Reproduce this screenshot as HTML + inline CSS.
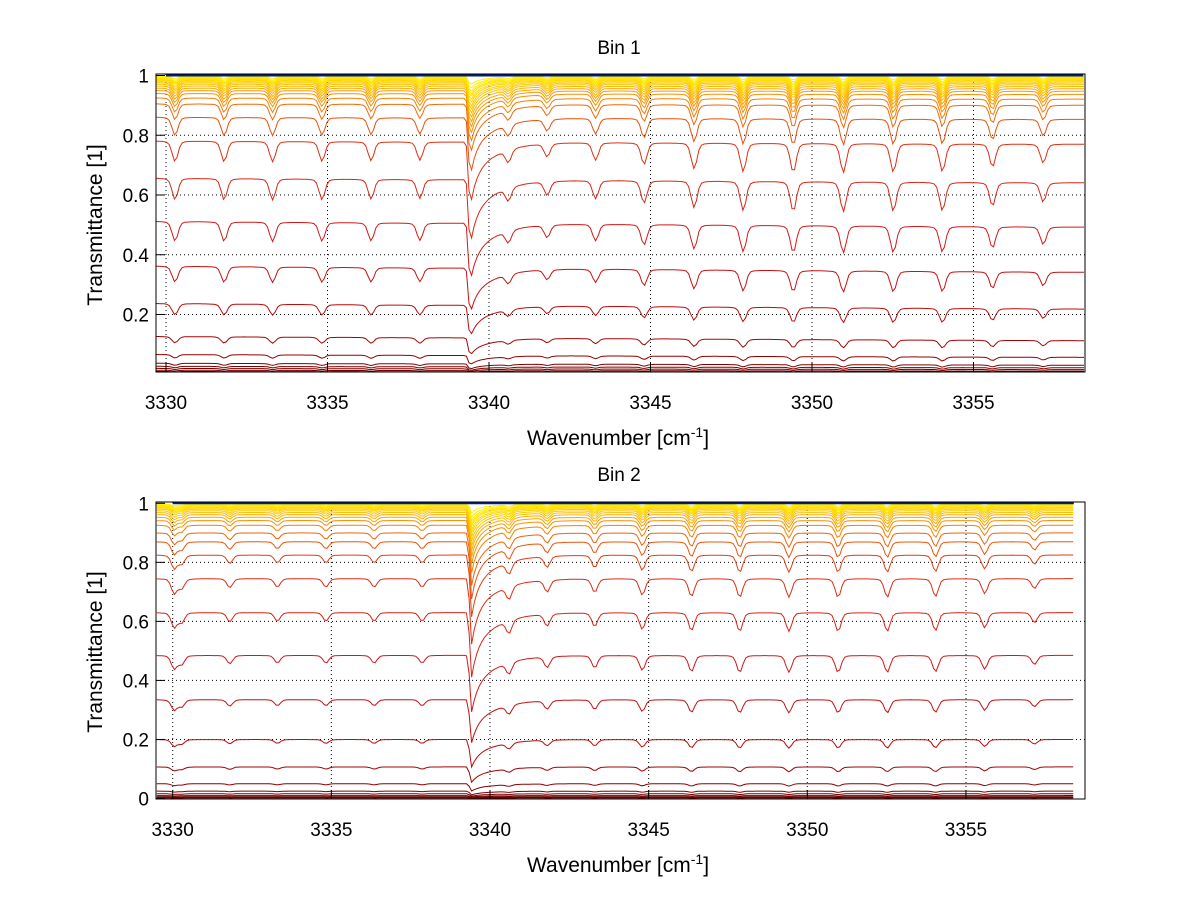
<!DOCTYPE html>
<html><head><meta charset="utf-8">
<style>
html,body{margin:0;padding:0;background:#fff;}
svg{display:block;font-family:"Liberation Sans",Arial,sans-serif;}
</style></head>
<body>
<svg id="chart" width="1200" height="901" viewBox="0 0 1200 901" xmlns="http://www.w3.org/2000/svg">
<rect width="1200" height="901" fill="#fff"/>
<defs>
<clipPath id="clipTop"><rect x="156" y="74" width="929" height="298"/></clipPath>
<clipPath id="clipBot"><rect x="156" y="502" width="929" height="297"/></clipPath>
</defs>
<g id="panels"></g>
</svg>
<script>
// ---- data ----
const xTicks = [3330, 3335, 3340, 3345, 3350, 3355];
const yTicksTop = [0.2, 0.4, 0.6, 0.8, 1];
const yTickLabelsTop = ["0.2", "0.4", "0.6", "0.8", "1"];
const yTicksBot = [0, 0.2, 0.4, 0.6, 0.8, 1];
const yTickLabelsBot = ["0", "0.2", "0.4", "0.6", "0.8", "1"];
// baseline transmittance of each curve
const topLevels = [1.0, 0.998, 0.996, 0.994, 0.992, 0.99, 0.987, 0.984, 0.98, 0.976, 0.971, 0.965, 0.958, 0.95, 0.94, 0.925, 0.905, 0.86, 0.78, 0.655, 0.51, 0.36, 0.235, 0.125, 0.065, 0.036, 0.026, 0.019, 0.013, 0.009, 0.006];
const botLevels = [1.0, 0.998, 0.996, 0.994, 0.992, 0.99, 0.987, 0.984, 0.98, 0.975, 0.969, 0.962, 0.953, 0.942, 0.926, 0.9, 0.87, 0.825, 0.745, 0.63, 0.485, 0.335, 0.2, 0.107, 0.05, 0.025, 0.016, 0.01, 0.006, 0.004, 0.002];
// absorption line centres (cm-1) and relative strengths
const linePositions = [3330.05, 3330.28, 3331.8, 3333.3, 3334.83, 3336.35, 3337.86, 3339.42, 3340.6, 3341.8, 3343.3, 3344.8, 3346.35, 3347.87, 3349.42, 3350.97, 3352.52, 3354.04, 3355.59, 3357.16];
const topStrengths = [0.0, 0.28, 0.28, 0.28, 0.27, 0.26, 0.25, 1.0, 0.18, 0.18, 0.24, 0.3, 0.36, 0.4, 0.41, 0.41, 0.4, 0.39, 0.32, 0.26];
const botStrengths = [0.2, 0.13, 0.12, 0.11, 0.11, 0.11, 0.11, 1.0, 0.18, 0.16, 0.18, 0.22, 0.24, 0.25, 0.25, 0.25, 0.25, 0.24, 0.2, 0.13];

const NS = "http://www.w3.org/2000/svg";
const root = document.getElementById("panels");

const panels = [
  {name:"bin-1", title:"Bin 1", levels:topLevels, strengths:topStrengths, slope:0.002,
   x0:166, xs:32.3, y1:75.5, ys:298.75, box:[156,74,1085,372], xmin:3329.7, xmax:3358.45,
   yTicks:yTicksTop, yLabels:yTickLabelsTop, clip:"clipTop", titleY:54, xlabY:409, xtitleY:445, ytitleY:225},
  {name:"bin-2", title:"Bin 2", levels:botLevels, strengths:botStrengths, slope:0.0,
   x0:172.7, xs:31.73, y1:503.3, ys:295.2, box:[156,502,1085,799], xmin:3329.5, xmax:3358.4,
   yTicks:yTicksBot, yLabels:yTickLabelsBot, clip:"clipBot", titleY:481, xlabY:836, xtitleY:872, ytitleY:652}
];

function color(v){
  if (v >= 0.9999) return "#001e8a";
  const stops = [[0,[110,0,0]],[0.05,[140,0,0]],[0.2,[185,10,10]],[0.5,[210,25,25]],[0.8,[222,50,20]],[0.9,[238,100,10]],[0.95,[250,155,0]],[0.98,[255,205,0]],[1,[255,245,0]]];
  for (let i=1;i<stops.length;i++){
    if (v <= stops[i][0]){
      const a=stops[i-1], b=stops[i], t=(v-a[0])/(b[0]-a[0]);
      const c=a[1].map((q,j)=>Math.round(q+(b[1][j]-q)*t));
      return "rgb("+c.join(",")+")";
    }
  }
  return "rgb(255,245,0)";
}
function profile(nu, c, isBig){
  const d = nu - c;
  if (isBig){
    if (d < 0) return Math.exp(-(d/0.07)*(d/0.07));
    return 0.45*Math.exp(-d/0.15) + 0.55*Math.exp(-d/0.7);
  }
  return 0.8*Math.exp(-(d/0.12)*(d/0.12)) + 0.2/(1+(d/0.15)*(d/0.15));
}
function mk(tag, attrs, parent){
  const e=document.createElementNS(NS,tag);
  for (const k in attrs) e.setAttribute(k, attrs[k]);
  (parent||root).appendChild(e);
  return e;
}

panels.forEach(p=>{
  const X = nu => p.x0 + (nu-3330)*p.xs;
  const Y = v => p.y1 + (1-v)*p.ys;
  const [bx0,by0,bx1,by1] = p.box;
  const g = mk("g",{});
  
  

  xTicks.forEach(t=>{
    const l = mk("line",{x1:X(t),x2:X(t),y1:by0,y2:by1,stroke:"#000","stroke-width":1,"stroke-dasharray":"1,3"},g);
    
    
  });
  p.yTicks.forEach(t=>{
    if (t<=0.001 || t>=0.999) return;
    const l = mk("line",{x1:bx0,x2:bx1,y1:Y(t),y2:Y(t),stroke:"#000","stroke-width":1,"stroke-dasharray":"1,3"},g);
    
    
  });

  const cg = mk("g",{"clip-path":"url(#"+p.clip+")"},g);
  
  
  const order = p.levels.map((v,i)=>i).sort((a,b)=>p.levels[a]-p.levels[b]);
  order.forEach(i=>{
    const lv = p.levels[i];
    const A0 = -Math.log(lv);
    const D = 0.7*Math.sqrt(Math.max(0,1-lv));
    const start = lv>=0.9999 ? 3330.0 : p.xmin;
    let d="";
    for (let nu=start; nu<=p.xmax+1e-9; nu+=0.08){
      let A = A0*(1+p.slope*(nu-3333));
      let s=0;
      for (let k=0;k<linePositions.length;k++){
        s += p.strengths[k]*profile(nu, linePositions[k], k===7);
      }
      A += D*s;
      const v = Math.exp(-A);
      d += (d?"L":"M")+X(nu).toFixed(1)+","+Y(v).toFixed(1);
    }
    const path = mk("path",{d:d,fill:"none",stroke:color(lv),"stroke-width":lv>=0.9999?2:1},cg);
    
    
  });

  const box = mk("rect",{x:bx0,y:by0,width:bx1-bx0,height:by1-by0,fill:"none",stroke:"#000","stroke-width":1},g);
  
  

  xTicks.forEach(t=>{
    const tk = mk("line",{x1:X(t),x2:X(t),y1:by1,y2:by1-9,stroke:"#000","stroke-width":1},g);
    
    
    const tx = mk("text",{x:X(t),y:p.xlabY,"text-anchor":"middle","font-size":19,fill:"#000"},g);
    tx.textContent = String(t);
    
    
  });
  p.yTicks.forEach((t,i)=>{
    const tk = mk("line",{x1:bx0,x2:bx0+9,y1:Y(t),y2:Y(t),stroke:"#000","stroke-width":1},g);
    
    
    const tx = mk("text",{x:149,y:Y(t)+7,"text-anchor":"end","font-size":19,fill:"#000"},g);
    tx.textContent = p.yLabels[i];
    
    
  });

  const ti = mk("text",{x:619,y:p.titleY,"text-anchor":"middle","font-size":19,fill:"#000"},g);
  ti.textContent = p.title;
  
  

  const xt = mk("text",{x:618,y:p.xtitleY,"text-anchor":"middle","font-size":21,fill:"#000"},g);
  xt.innerHTML = 'Wavenumber [cm<tspan dy="-8" font-size="14">-1</tspan><tspan dy="8">]</tspan>';
  
  

  const yt = mk("text",{x:0,y:0,"text-anchor":"middle","font-size":21,fill:"#000",transform:"translate(102,"+p.ytitleY+") rotate(-90)"},g);
  yt.textContent = "Transmittance [1]";
  
  
});
</script>
</body></html>
